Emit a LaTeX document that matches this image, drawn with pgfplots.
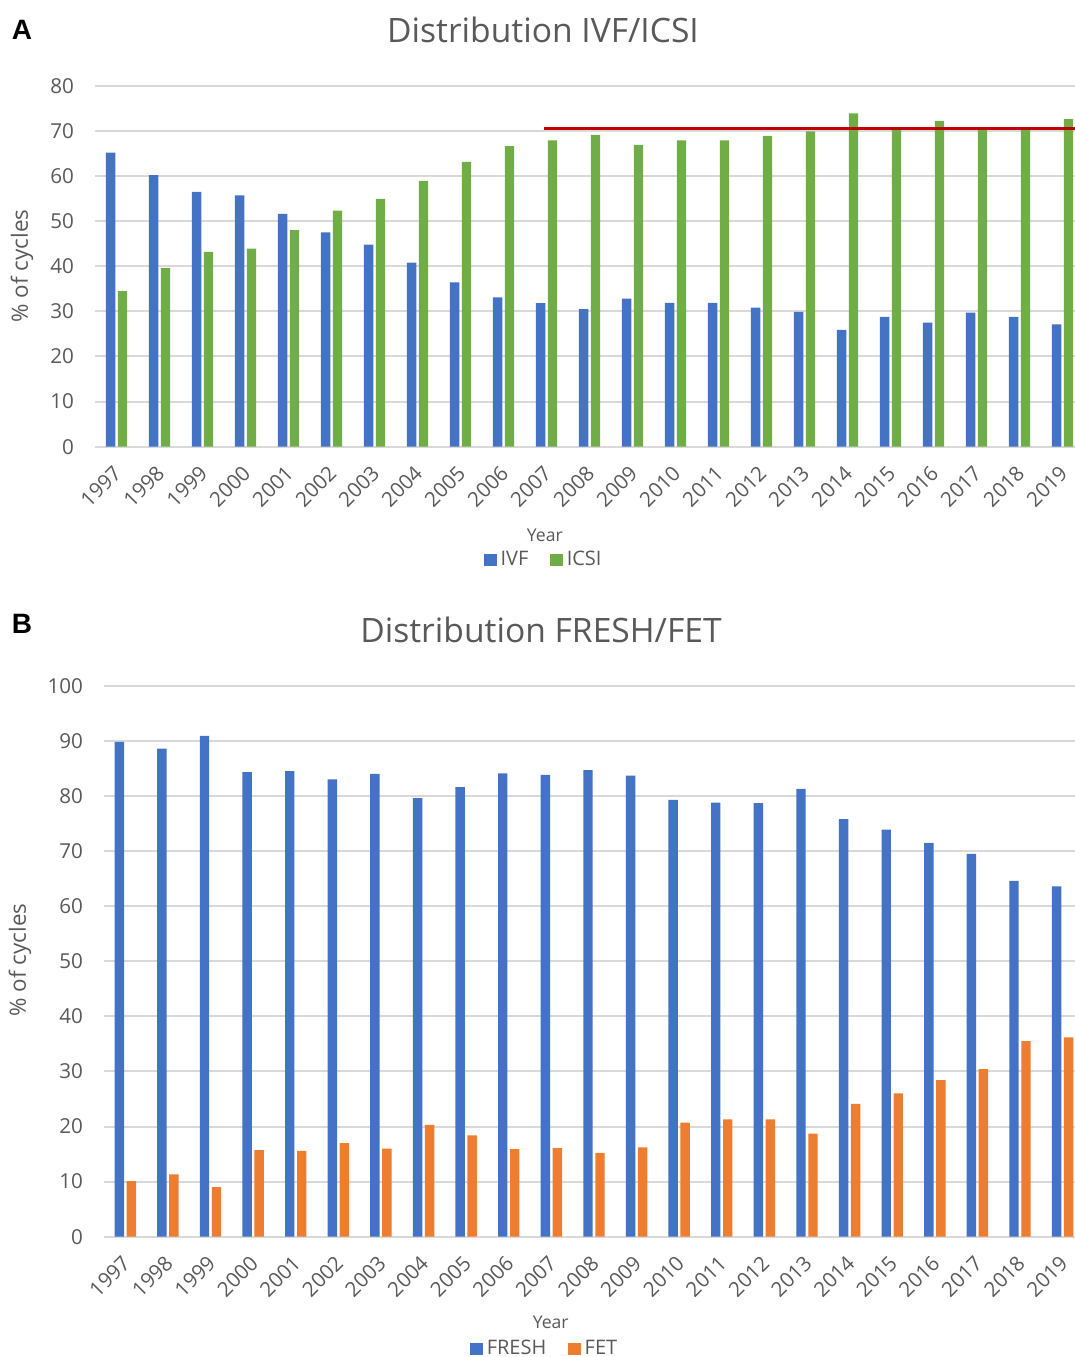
\documentclass[border=0pt]{standalone}
\usepackage{fontspec}
\setmainfont{Open Sans}
\newfontfamily\boldsans{Liberation Sans}
\usepackage{pgfplots}
\pgfplotsset{compat=1.18}
\definecolor{cIVF}{HTML}{4472C4}
\definecolor{cICSI}{HTML}{70AD47}
\definecolor{cFET}{HTML}{ED7D31}
\definecolor{cRed}{HTML}{C00000}
\definecolor{cTxt}{HTML}{595959}
\definecolor{cGrid}{HTML}{D9D9D9}
\pgfplotsset{
  mybase/.style={
    scale only axis,
    anchor=south west,
    axis line style={draw=none},
    tick style={draw=none},
    ymajorgrids, major grid style={cGrid, line width=1pt},
    xmin=-0.5,
    xtick={0,...,22},
    xticklabels={1997,1998,1999,2000,2001,2002,2003,2004,2005,2006,2007,2008,2009,2010,2011,2012,2013,2014,2015,2016,2017,2018,2019},
    /pgf/number format/assume math mode=true,
    tick label style={font=\fontsize{10.3}{12}\selectfont, text=cTxt},
    yticklabel style={xshift=-7pt},
    xticklabel style={yshift=-9pt, xshift=3pt, rotate=45, anchor=east},
    legend style={draw=none, fill=none, font=\fontsize{10}{12}\selectfont, text=cTxt, legend columns=2,
      /tikz/every even column/.append style={column sep=9pt}},
    legend image code/.code={\fill[##1,draw=none] (0pt,-3.1pt) rectangle (6.2pt,3.1pt);},
    clip=true,
  }
}
\begin{document}
\begin{tikzpicture}
\useasboundingbox (0,0) rectangle (537.5pt,-678.5pt);
% Panel A
\node[font=\boldsans\bfseries\fontsize{14}{16}\selectfont] at (11pt,-15pt) {A};
\node[text=cTxt, font=\fontsize{16.8}{19}\selectfont] at (271.5pt,-15pt) {Distribution IVF/ICSI};
\node[text=cTxt, rotate=90, font=\fontsize{11.2}{13}\selectfont] at (11pt,-133pt) {\% of cycles};
\begin{axis}[mybase,
  at={(47.5pt,-223.35pt)}, width=490pt, height=180.5pt,
  xmax=22.29, ymin=0, ymax=80, ytick={0,10,...,80},
  xlabel={Year}, xlabel style={at={(axis description cs:0.459,-0.245)}, anchor=center, font=\fontsize{8.8}{11}\selectfont, text=cTxt},
  legend style={at={(0.459,-0.314)}, anchor=center},
]
\addplot[ybar, bar width=4.65pt, bar shift=-2.95pt, fill=cIVF, draw=none] coordinates {
(0,65.2) (1,60.2) (2,56.5) (3,55.7) (4,51.6) (5,47.5) (6,44.8) (7,40.8) (8,36.4) (9,33.1) (10,31.8) (11,30.5)
(12,32.8) (13,31.9) (14,31.9) (15,30.8) (16,29.9) (17,25.9) (18,28.8) (19,27.5) (20,29.7) (21,28.8) (22,27.1)};
\addlegendentry{IVF}
\addplot[ybar, bar width=4.65pt, bar shift=2.95pt, fill=cICSI, draw=none] coordinates {
(0,34.5) (1,39.6) (2,43.2) (3,43.9) (4,48.0) (5,52.3) (6,54.9) (7,58.9) (8,63.1) (9,66.6) (10,67.9) (11,69.1)
(12,66.9) (13,67.9) (14,67.9) (15,68.9) (16,69.9) (17,73.9) (18,70.5) (19,72.2) (20,70.5) (21,70.5) (22,72.6)};
\addlegendentry{ICSI}
\addplot[cRed, line width=1.5pt, forget plot] coordinates {(9.95,70.6) (22.4,70.6)};
\end{axis}
% Panel B
\node[font=\boldsans\bfseries\fontsize{14}{16}\selectfont] at (11pt,-312pt) {B};
\node[text=cTxt, font=\fontsize{16.8}{19}\selectfont] at (270.5pt,-315pt) {Distribution FRESH/FET};
\node[text=cTxt, rotate=90, font=\fontsize{11.2}{13}\selectfont] at (10pt,-480pt) {\% of cycles};
\begin{axis}[mybase,
  at={(52pt,-618.35pt)}, width=485.5pt, height=275.5pt,
  xmax=22.29, ymin=0, ymax=100, ytick={0,10,...,100},
  xlabel={Year}, xlabel style={at={(axis description cs:0.460,-0.155)}, anchor=center, font=\fontsize{8.8}{11}\selectfont, text=cTxt},
  legend style={at={(0.455,-0.204)}, anchor=center},
]
\addplot[ybar, bar width=4.7pt, bar shift=-3pt, fill=cIVF, draw=none] coordinates {
(0,89.8) (1,88.6) (2,90.9) (3,84.3) (4,84.5) (5,83.0) (6,84.0) (7,79.6) (8,81.6) (9,84.1) (10,83.8) (11,84.7)
(12,83.7) (13,79.3) (14,78.8) (15,78.7) (16,81.3) (17,75.8) (18,73.9) (19,71.5) (20,69.5) (21,64.6) (22,63.6)};
\addlegendentry{FRESH}
\addplot[ybar, bar width=4.7pt, bar shift=3pt, fill=cFET, draw=none] coordinates {
(0,10.1) (1,11.3) (2,9.0) (3,15.7) (4,15.6) (5,17.0) (6,16.0) (7,20.3) (8,18.4) (9,15.9) (10,16.1) (11,15.2)
(12,16.2) (13,20.7) (14,21.3) (15,21.3) (16,18.7) (17,24.1) (18,26.0) (19,28.4) (20,30.4) (21,35.5) (22,36.2)};
\addlegendentry{FET}
\end{axis}
\end{tikzpicture}
\end{document}
